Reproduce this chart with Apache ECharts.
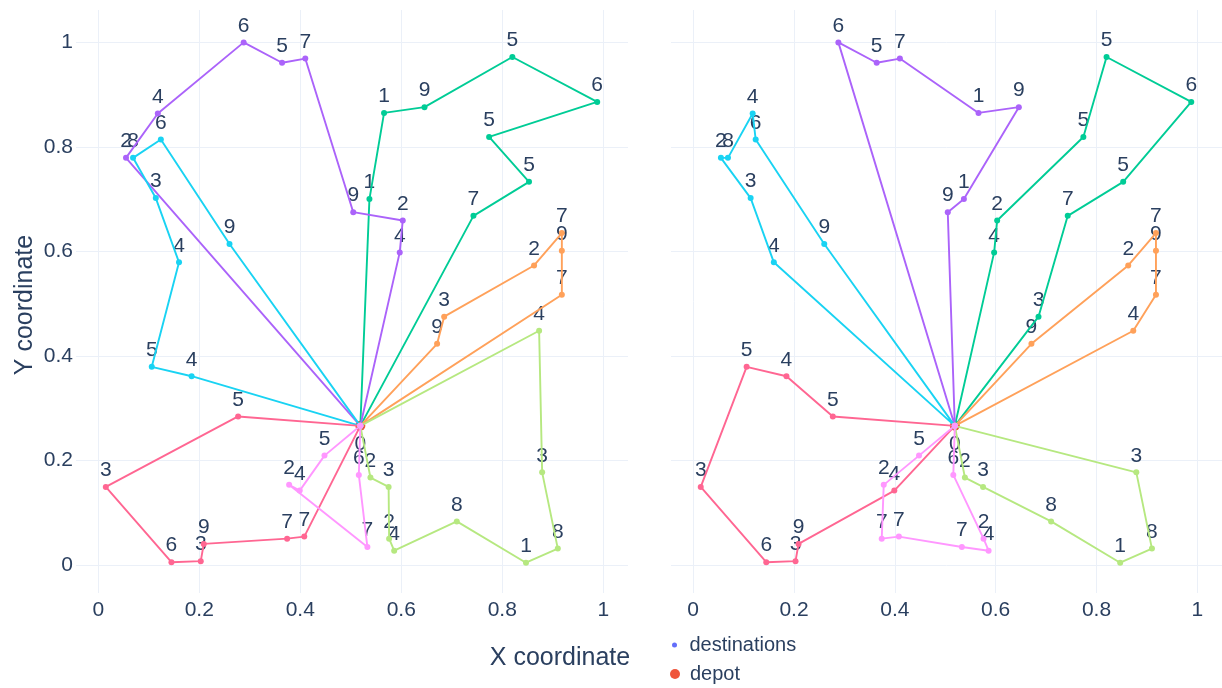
<!DOCTYPE html>
<html><head><meta charset="utf-8">
<script src="https://cdn.jsdelivr.net/npm/echarts@6/dist/echarts.min.js"></script>
<style>html,body{margin:0;padding:0;background:#fff}#c{width:1222px;height:688px}</style>
</head><body><div id="c"></div>
<script>
// node coordinates; index 0 is the depot
const nodeX = [0.519,
  0.055, 0.118, 0.288, 0.364, 0.410, 0.505, 0.603, 0.597,
  0.069, 0.124, 0.114, 0.160, 0.260, 0.106, 0.185,
  0.537, 0.566, 0.646, 0.820, 0.988, 0.774, 0.853, 0.743,
  0.918, 0.918, 0.863, 0.918, 0.685, 0.671,
  0.873, 0.879, 0.910, 0.847, 0.710, 0.586, 0.576, 0.575, 0.539,
  0.448, 0.399, 0.378, 0.533, 0.516,
  0.277, 0.015, 0.145, 0.203, 0.209, 0.374, 0.408];
const nodeY = [0.266,
  0.779, 0.864, 1.000, 0.961, 0.969, 0.675, 0.659, 0.598,
  0.779, 0.814, 0.702, 0.579, 0.614, 0.379, 0.361,
  0.700, 0.865, 0.876, 0.972, 0.886, 0.819, 0.733, 0.668,
  0.635, 0.601, 0.573, 0.517, 0.475, 0.423,
  0.448, 0.177, 0.031, 0.004, 0.083, 0.027, 0.050, 0.149, 0.167,
  0.209, 0.142, 0.153, 0.034, 0.172,
  0.284, 0.149, 0.005, 0.007, 0.040, 0.050, 0.054];
const demand = [0,
  2, 4, 6, 5, 7, 9, 2, 4,
  8, 6, 3, 4, 9, 5, 4,
  1, 1, 9, 5, 6, 5, 5, 7,
  7, 9, 2, 7, 3, 9,
  4, 3, 8, 1, 8, 4, 2, 3, 2,
  5, 4, 2, 7, 6,
  5, 3, 6, 3, 9, 7, 7];
// routes as node index sequences
const routesLeft = [
  [0, 16, 17, 18, 19, 20, 21, 22, 23, 0],
  [0, 1, 2, 3, 4, 5, 6, 7, 8, 0],
  [0, 29, 28, 26, 24, 25, 27, 0],
  [0, 13, 10, 9, 11, 12, 14, 15, 0],
  [0, 44, 45, 46, 47, 48, 49, 50, 0],
  [0, 30, 31, 32, 33, 34, 35, 36, 37, 38, 0],
  [0, 39, 40, 41, 42, 43, 0]
];
const routesRight = [
  [0, 8, 7, 21, 19, 20, 22, 23, 28, 0],
  [0, 3, 4, 5, 17, 18, 16, 6, 0],
  [0, 29, 26, 24, 25, 27, 30, 0],
  [0, 13, 10, 2, 9, 1, 11, 12, 0],
  [0, 44, 15, 14, 45, 46, 47, 48, 40, 0],
  [0, 31, 32, 33, 34, 37, 38, 0],
  [0, 43, 36, 35, 42, 50, 49, 41, 39, 0]
];
const tickValues = [0, 0.2, 0.4, 0.6, 0.8, 1];

// styles
const routeColors = ['#00CC96', '#AB63FA', '#FFA15A', '#19D3F3', '#FF6692', '#B6E880', '#FF97FF'];
const FONT = '"Liberation Sans", Arial, sans-serif';
const TXT = '#2a3f5f';
const GRIDC = '#EBF0F8';

const chart = echarts.init(document.getElementById('c'), null, {renderer: 'canvas'});

function fmtTick(v) {
  for (const t of tickValues) if (Math.abs(v - t) < 1e-6) return String(t);
  return '';
}
function xAxisCfg(gi) {
  return {
    type: 'value', gridIndex: gi, min: -0.044, max: 1.049, splitNumber: 5,
    axisLine: {show: false}, axisTick: {show: false},
    axisLabel: {formatter: fmtTick, fontSize: 21, color: TXT, fontFamily: FONT, margin: 7,
      showMinLabel: false, showMaxLabel: false},
    splitLine: {show: true, showMinLine: false, showMaxLine: false, lineStyle: {color: GRIDC, width: 1}}
  };
}
function yAxisCfg(gi, showLabels) {
  return {
    type: 'value', gridIndex: gi, min: -0.054, max: 1.062, splitNumber: 5,
    axisLine: {show: false}, axisTick: {show: false},
    axisLabel: {show: showLabels, formatter: fmtTick, fontSize: 21, color: TXT, fontFamily: FONT, margin: 3,
      showMinLabel: false, showMaxLabel: false},
    splitLine: {show: true, showMinLine: false, showMaxLine: false, lineStyle: {color: GRIDC, width: 1}}
  };
}

const series = [];
[routesLeft, routesRight].forEach((routes, gi) => {
  const dest = [];
  for (let i = 1; i < nodeX.length; i++) dest.push([nodeX[i], nodeY[i], demand[i]]);
  series.push({
    name: 'destinations', type: 'scatter', xAxisIndex: gi, yAxisIndex: gi,
    data: dest, symbol: 'circle', symbolSize: 4, itemStyle: {color: '#636EFA', opacity: 1},
    label: {show: true, position: 'top', distance: 4, formatter: p => String(p.value[2]),
      fontSize: 21, color: TXT, fontFamily: FONT},
    silent: true, z: 2
  });
  series.push({
    name: 'depot', type: 'scatter', xAxisIndex: gi, yAxisIndex: gi,
    data: [[nodeX[0], nodeY[0], demand[0]]], symbol: 'circle', symbolSize: 10,
    itemStyle: {color: '#EF553B', opacity: 1},
    label: {show: true, position: 'bottom', distance: 3, formatter: p => String(p.value[2]),
      fontSize: 21, color: TXT, fontFamily: FONT},
    silent: true, z: 2
  });
  routes.forEach((r, ri) => {
    series.push({
      name: 'route' + (ri + 1), type: 'line', xAxisIndex: gi, yAxisIndex: gi,
      data: r.map(k => [nodeX[k], nodeY[k]]),
      symbol: 'circle', symbolSize: 6, showSymbol: true, showAllSymbol: true,
      lineStyle: {color: routeColors[ri], width: 1.9},
      itemStyle: {color: routeColors[ri], borderWidth: 0, opacity: 1},
      silent: true, z: 3
    });
  });
});

chart.setOption({
  animation: false,
  backgroundColor: '#ffffff',
  textStyle: {fontFamily: FONT},
  grid: [
    {left: 76, top: 10, width: 552, height: 583},
    {left: 671, top: 10, width: 551, height: 583}
  ],
  xAxis: [xAxisCfg(0), xAxisCfg(1)],
  yAxis: [yAxisCfg(0, true), yAxisCfg(1, false)],
  legend: [
    {data: ['destinations'], left: 672, top: 635, orient: 'vertical', padding: 0,
     itemWidth: 20, itemHeight: 5, icon: 'circle', selectedMode: false,
     textStyle: {fontSize: 20, color: TXT, fontFamily: FONT}},
    {data: ['depot'], left: 670, top: 664, orient: 'vertical', padding: 0,
     itemWidth: 20, itemHeight: 10, icon: 'circle', selectedMode: false,
     textStyle: {fontSize: 20, color: TXT, fontFamily: FONT}}
  ],
  graphic: [
    {type: 'text', x: 560, y: 658,
     style: {text: 'X coordinate', font: '25px "Liberation Sans", Arial, sans-serif', fill: TXT,
       align: 'center', verticalAlign: 'middle'}},
    {type: 'text', x: 25, y: 305, rotation: Math.PI / 2,
     style: {text: 'Y coordinate', font: '25px "Liberation Sans", Arial, sans-serif', fill: TXT,
       align: 'center', verticalAlign: 'middle'}}
  ],
  series: series
});
</script>
</body></html>
